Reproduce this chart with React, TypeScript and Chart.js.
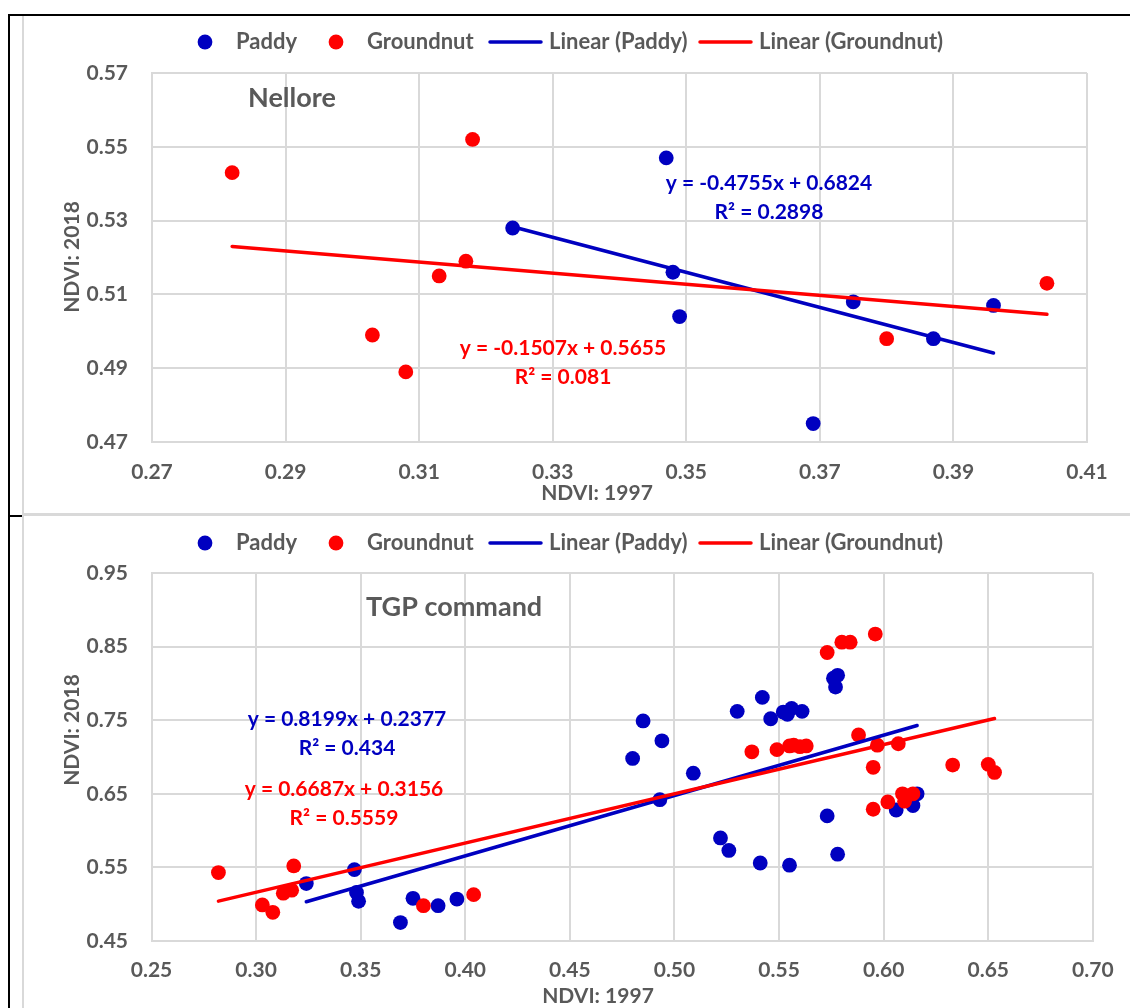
import React, { useEffect, useRef } from "react";
import { Chart, registerables } from "chart.js";

Chart.register(...registerables);

const FONT = "Lato, 'Open Sans', 'DejaVu Sans', sans-serif";
const TEXT_GRAY = "#595959";
const GRID = "#d9d9d9";
const BLUE = "#0000C0";
const RED = "#FF0000";

const seriesLabels = ["Paddy", "Groundnut", "Linear (Paddy)", "Linear (Groundnut)"];
const axisTitleX = "NDVI: 1997";
const axisTitleY = "NDVI: 2018";

// ---------- Nellore ----------
const nelloreTitle = "Nellore";
const nelloreXTicks = [0.27, 0.29, 0.31, 0.33, 0.35, 0.37, 0.39, 0.41];
const nelloreYTicks = [0.47, 0.49, 0.51, 0.53, 0.55, 0.57];
const nellorePaddyX = [0.347, 0.324, 0.348, 0.349, 0.369, 0.375, 0.387, 0.396];
const nellorePaddyY = [0.547, 0.528, 0.516, 0.504, 0.475, 0.508, 0.498, 0.507];
const nelloreGnutX = [0.282, 0.318, 0.317, 0.313, 0.303, 0.308, 0.38, 0.404];
const nelloreGnutY = [0.543, 0.552, 0.519, 0.515, 0.499, 0.489, 0.498, 0.513];
const nelloreSlope = [-0.4755, -0.1507];
const nelloreIntercept = [0.6824, 0.5655];
const nelloreR2 = [0.2898, 0.081];

// ---------- TGP command ----------
const tgpTitle = "TGP command";
const tgpXTicks = [0.25, 0.3, 0.35, 0.4, 0.45, 0.5, 0.55, 0.6, 0.65, 0.7];
const tgpYTicks = [0.45, 0.55, 0.65, 0.75, 0.85, 0.95];
const tgpPaddyX = [
  0.347, 0.324, 0.348, 0.349, 0.369, 0.375, 0.387, 0.396,
  0.48, 0.485, 0.493, 0.494, 0.509, 0.522, 0.526, 0.53, 0.541, 0.542, 0.546, 0.552,
  0.554, 0.555, 0.556, 0.561, 0.573, 0.576, 0.577, 0.578, 0.578, 0.606, 0.614, 0.616,
];
const tgpPaddyY = [
  0.547, 0.528, 0.516, 0.504, 0.475, 0.508, 0.498, 0.507,
  0.698, 0.749, 0.642, 0.722, 0.678, 0.59, 0.573, 0.762, 0.556, 0.781, 0.752, 0.761,
  0.758, 0.553, 0.766, 0.762, 0.62, 0.807, 0.795, 0.811, 0.568, 0.628, 0.634, 0.65,
];
const tgpGnutX = [
  0.282, 0.318, 0.317, 0.313, 0.303, 0.308, 0.38, 0.404,
  0.537, 0.549, 0.555, 0.557, 0.56, 0.563, 0.573, 0.58, 0.584, 0.588, 0.595, 0.595,
  0.596, 0.597, 0.602, 0.607, 0.609, 0.61, 0.614, 0.633, 0.65, 0.653,
];
const tgpGnutY = [
  0.543, 0.552, 0.519, 0.515, 0.499, 0.489, 0.498, 0.513,
  0.707, 0.71, 0.715, 0.716, 0.714, 0.715, 0.842, 0.856, 0.856, 0.73, 0.686, 0.629,
  0.867, 0.716, 0.639, 0.718, 0.65, 0.64, 0.65, 0.689, 0.69, 0.679,
];
const tgpSlope = [0.8199, 0.6687];
const tgpIntercept = [0.2377, 0.3156];
const tgpR2 = [0.434, 0.5559];

const CANVAS_W = 1107;

function trend(xs: number[], slope: number, intercept: number) {
  const lo = Math.min(...xs);
  const hi = Math.max(...xs);
  return [
    { x: lo, y: slope * lo + intercept },
    { x: hi, y: slope * hi + intercept },
  ];
}

function eqText(slope: number, intercept: number) {
  return `y = ${slope}x + ${intercept}`;
}

const overlayPlugin = {
  id: "overlay",
  afterDraw(chart: any, _args: any, opts: any) {
    const ctx = chart.ctx as CanvasRenderingContext2D;
    ctx.save();
    // legend
    const lg = opts.legend;
    ctx.font = `bold ${lg.fontSize}px ${FONT}`;
    ctx.textBaseline = "middle";
    ctx.textAlign = "left";
    chart.data.datasets.forEach((ds: any, i: number) => {
      const mx = lg.markerX[i];
      let tx;
      if (ds.type === "line") {
        ctx.strokeStyle = ds.borderColor;
        ctx.lineWidth = ds.borderWidth;
        ctx.lineCap = "round";
        ctx.beginPath();
        ctx.moveTo(mx, lg.y);
        ctx.lineTo(mx + lg.lineLen, lg.y);
        ctx.stroke();
        tx = mx + lg.lineLen + lg.lineGap;
      } else {
        ctx.fillStyle = ds.backgroundColor;
        ctx.beginPath();
        ctx.arc(mx, lg.y, ds.pointRadius, 0, Math.PI * 2);
        ctx.fill();
        tx = mx + lg.dotGap;
      }
      ctx.fillStyle = TEXT_GRAY;
      ctx.fillText(ds.label, tx, lg.y);
    });

    // inner title
    const t = opts.title;
    ctx.font = `bold ${t.fontSize}px ${FONT}`;
    ctx.fillStyle = TEXT_GRAY;
    ctx.textAlign = "left";
    ctx.fillText(t.text, t.x, t.y);

    // equations
    ctx.textAlign = "center";
    opts.equations.forEach((e: any) => {
      ctx.font = `bold ${e.fontSize}px ${FONT}`;
      ctx.fillStyle = e.color;
      e.lines.forEach((ln: string, k: number) => {
        ctx.fillText(ln, e.x, e.y + k * e.lineGap);
      });
    });

    // axis titles
    const at = opts.axisTitles;
    ctx.font = `bold ${at.fontSize}px ${FONT}`;
    ctx.fillStyle = TEXT_GRAY;
    ctx.textAlign = "center";
    ctx.fillText(at.xText, at.xX, at.xY);
    ctx.translate(at.yX, at.yY);
    ctx.rotate(-Math.PI / 2);
    ctx.fillText(at.yText, 0, 0);
    ctx.restore();
  },
};

type PanelCfg = {
  height: number;
  xTicks: number[];
  yTicks: number[];
  paddyX: number[];
  paddyY: number[];
  gnutX: number[];
  gnutY: number[];
  slope: number[];
  intercept: number[];
  r2: number[];
  title: string;
  yAxisW: number;
  xAxisH: number;
  padRight: number;
  padBottom: number;
  xTickPad: number;
  yTickPad: number;
  legendY: number;
  titlePos: [number, number];
  eqBlue: [number, number];
  eqRed: [number, number];
  xTitlePos: [number, number];
  yTitlePos: [number, number];
};

const tickFont = { family: FONT, size: 21, weight: "bold" as const, lineHeight: 1.2 };

function buildConfig(p: PanelCfg): any {
  const paddy = p.paddyX.map((x, i) => ({ x, y: p.paddyY[i] }));
  const gnut = p.gnutX.map((x, i) => ({ x, y: p.gnutY[i] }));
  return {
    type: "scatter",
    data: {
      datasets: [
        { type: "scatter", label: seriesLabels[0], data: paddy, backgroundColor: BLUE, borderWidth: 0, pointRadius: 7.4, order: 4 },
        { type: "scatter", label: seriesLabels[1], data: gnut, backgroundColor: RED, borderWidth: 0, pointRadius: 7.4, order: 3 },
        { type: "line", label: seriesLabels[2], data: trend(p.paddyX, p.slope[0], p.intercept[0]), borderColor: BLUE, borderWidth: 3.5, pointRadius: 0, borderCapStyle: "round", fill: false, order: 2 },
        { type: "line", label: seriesLabels[3], data: trend(p.gnutX, p.slope[1], p.intercept[1]), borderColor: RED, borderWidth: 3.5, pointRadius: 0, borderCapStyle: "round", fill: false, order: 1 },
      ],
    },
    options: {
      animation: false,
      responsive: false,
      events: [],
      layout: { padding: { top: 57, left: 0, right: p.padRight, bottom: p.padBottom } },
      plugins: {
        legend: { display: false },
        tooltip: { enabled: false },
        overlay: {
          legend: { fontSize: 22, y: p.legendY, markerX: [182, 313, 467, 677], lineLen: 51, lineGap: 8, dotGap: 31 },
          title: { text: p.title, fontSize: 27, x: p.titlePos[0], y: p.titlePos[1] },
          equations: [
            { lines: [eqText(p.slope[0], p.intercept[0]), `R² = ${p.r2[0]}`], x: p.eqBlue[0], y: p.eqBlue[1], lineGap: 29, color: BLUE, fontSize: 21 },
            { lines: [eqText(p.slope[1], p.intercept[1]), `R² = ${p.r2[1]}`], x: p.eqRed[0], y: p.eqRed[1], lineGap: 29, color: RED, fontSize: 21 },
          ],
          axisTitles: { fontSize: 21, xText: axisTitleX, xX: p.xTitlePos[0], xY: p.xTitlePos[1], yText: axisTitleY, yX: p.yTitlePos[0], yY: p.yTitlePos[1] },
        },
      },
      scales: {
        x: {
          type: "linear",
          min: p.xTicks[0],
          max: p.xTicks[p.xTicks.length - 1],
          afterBuildTicks: (s: any) => { s.ticks = p.xTicks.map((value) => ({ value })); },
          afterFit: (s: any) => { s.height = p.xAxisH; },
          grid: { color: GRID, lineWidth: 2, drawTicks: false },
          border: { color: GRID, width: 2 },
          ticks: { font: tickFont, color: TEXT_GRAY, padding: p.xTickPad, maxRotation: 0, autoSkip: false, callback: (v: any) => Number(v).toFixed(2) },
        },
        y: {
          type: "linear",
          min: p.yTicks[0],
          max: p.yTicks[p.yTicks.length - 1],
          afterBuildTicks: (s: any) => { s.ticks = p.yTicks.map((value) => ({ value })); },
          afterFit: (s: any) => { s.width = p.yAxisW; },
          grid: { color: GRID, lineWidth: 2, drawTicks: false },
          border: { color: GRID, width: 2 },
          ticks: { font: tickFont, color: TEXT_GRAY, padding: p.yTickPad, autoSkip: false, callback: (v: any) => Number(v).toFixed(2) },
        },
      },
    },
    plugins: [overlayPlugin],
  };
}

const nelloreCfg: PanelCfg = {
  height: 498,
  xTicks: nelloreXTicks,
  yTicks: nelloreYTicks,
  paddyX: nellorePaddyX,
  paddyY: nellorePaddyY,
  gnutX: nelloreGnutX,
  gnutY: nelloreGnutY,
  slope: nelloreSlope,
  intercept: nelloreIntercept,
  r2: nelloreR2,
  title: nelloreTitle,
  yAxisW: 129,
  xAxisH: 64,
  padRight: 43,
  padBottom: 8,
  xTickPad: 17.4,
  yTickPad: 24,
  legendY: 26,
  titlePos: [225, 82],
  eqBlue: [746, 167],
  eqRed: [540, 332],
  xTitlePos: [574, 477],
  yTitlePos: [49, 241],
};

const tgpCfg: PanelCfg = {
  height: 492,
  xTicks: tgpXTicks,
  yTicks: tgpYTicks,
  paddyX: tgpPaddyX,
  paddyY: tgpPaddyY,
  gnutX: tgpGnutX,
  gnutY: tgpGnutY,
  slope: tgpSlope,
  intercept: tgpIntercept,
  r2: tgpR2,
  title: tgpTitle,
  yAxisW: 128.5,
  xAxisH: 66,
  padRight: 36.4,
  padBottom: 1,
  xTickPad: 16.4,
  yTickPad: 23.5,
  legendY: 27,
  titlePos: [343, 91],
  eqBlue: [324, 203],
  eqRed: [321, 273],
  xTitlePos: [575, 480],
  yTitlePos: [49, 214],
};

function Panel({ cfg, top }: { cfg: PanelCfg; top: number }) {
  const ref = useRef<HTMLCanvasElement>(null);
  useEffect(() => {
    const chart = new Chart(ref.current!, buildConfig(cfg));
    return () => chart.destroy();
  }, [cfg]);
  return (
    <canvas
      ref={ref}
      width={CANVAS_W}
      height={cfg.height}
      style={{ position: "absolute", left: 23, top, width: CANVAS_W, height: cfg.height }}
    />
  );
}

export default function App() {
  return (
    <div style={{ position: "absolute", left: 0, top: 0, width: 1130, height: 1008, overflow: "hidden", background: "#fff" }}>
      {/* outer black frame */}
      <div style={{ position: "absolute", left: 8, top: 14, width: 1122, height: 2, background: "#000" }} />
      <div style={{ position: "absolute", left: 8, top: 14, width: 2, height: 994, background: "#000" }} />
      <div style={{ position: "absolute", left: 8, top: 515, width: 14, height: 2, background: "#000" }} />
      {/* grey chart frames */}
      <div style={{ position: "absolute", left: 22, top: 16, width: 2, height: 992, background: GRID }} />
      <div style={{ position: "absolute", left: 22, top: 513, width: 1108, height: 2.5, background: GRID }} />
      <Panel cfg={nelloreCfg} top={16} />
      <Panel cfg={tgpCfg} top={516} />
    </div>
  );
}
